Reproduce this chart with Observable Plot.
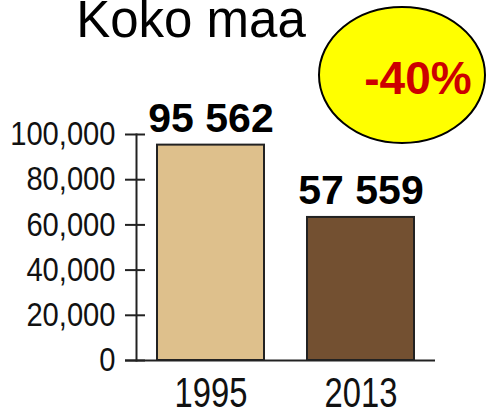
<!DOCTYPE html>
<html>
<head>
<meta charset="utf-8">
<script src="https://cdn.jsdelivr.net/npm/d3@7"></script>
<script src="https://cdn.jsdelivr.net/npm/@observablehq/plot@0.6"></script>
<style>
  html, body { margin: 0; padding: 0; background: #fff; }
  #chart svg { display: block; overflow: visible; }
</style>
</head>
<body>
<div id="chart"></div>
<script>
const years = ["1995", "2013"];
// bar heights as drawn in the picture
const barValues = [95300, 63300];
// printed value labels
const valueLabels = ["95 562", "57 559"];
const barColors = ["#dec08c", "#735031"];
const yTicks = [0, 20000, 40000, 60000, 80000, 100000];
const title = "Koko maa";
const changeLabel = "-40%";

const data = years.map((year, i) => ({year, value: barValues[i], label: valueLabels[i]}));

const sans = "'Liberation Sans', Arial, Helvetica, sans-serif";

const chart = Plot.plot({
  width: 487,
  height: 411,
  marginTop: 134,
  marginBottom: 51,
  marginLeft: 136,
  marginRight: 52,
  style: {background: "#fff", fontFamily: sans, color: "#111", overflow: "visible"},
  x: {domain: years, paddingInner: 0.287, paddingOuter: 0.14, label: null},
  y: {domain: [0, 100000], label: null},
  color: {domain: years, range: barColors},
  marks: [
    Plot.barY(data, {x: "year", y: "value", fill: "year", stroke: "#222", strokeWidth: 2}),
    Plot.frame({anchor: "left", stroke: "#222", strokeWidth: 2}),
    Plot.ruleY([0], {stroke: "#222", strokeWidth: 2, insetLeft: -11}),
    Plot.axisY({ticks: yTicks, tickSize: 20, dx: 9, tickFormat: () => "", stroke: "#222", strokeWidth: 2}),
    Plot.axisY({ticks: yTicks, tickSize: 0, tickPadding: 21, tickFormat: d3.format(","),
      fontSize: 33.5, fontFamily: sans, fill: "#111"}),
    Plot.axisX({tickSize: 0, tickPadding: 17, fontSize: 42, fontFamily: sans, fill: "#111"}),
    Plot.text(data, {x: "year", y: "value", text: "label", dy: -26.5, fontSize: 41,
      fontWeight: "bold", fontFamily: sans, fill: "#000"})
  ]
});

document.getElementById("chart").appendChild(chart);

const svg = d3.select(chart);

// condensed look of the axis labels (horizontal squeeze about each label's anchor)
function squeeze(selector, s) {
  svg.selectAll(selector).each(function() {
    const t = d3.select(this);
    const xa = t.attr("x");
    const x = xa != null && !isNaN(+xa) ? +xa : 0;
    const tr = t.attr("transform") || "";
    if (xa != null && !isNaN(+xa)) t.attr("x", null);
    t.attr("transform", `${tr} translate(${x},0) scale(${s},1)`);
  });
}
squeeze('g[aria-label="y-axis tick label"] text', 0.87);
squeeze('g[aria-label="x-axis tick label"] text', 0.78);

svg.append("text")
  .attr("x", 191).attr("y", 37)
  .attr("text-anchor", "middle")
  .attr("font-family", sans)
  .attr("font-size", 51)
  .attr("fill", "#000")
  .text(title);
svg.append("ellipse")
  .attr("cx", 402).attr("cy", 75).attr("rx", 83).attr("ry", 68)
  .attr("fill", "#ffff00").attr("stroke", "#000").attr("stroke-width", 2);
svg.append("text")
  .attr("x", 418).attr("y", 94)
  .attr("text-anchor", "middle")
  .attr("font-family", sans)
  .attr("font-size", 46)
  .attr("font-weight", "bold")
  .attr("fill", "#cc0000")
  .text(changeLabel);
</script>
</body>
</html>
